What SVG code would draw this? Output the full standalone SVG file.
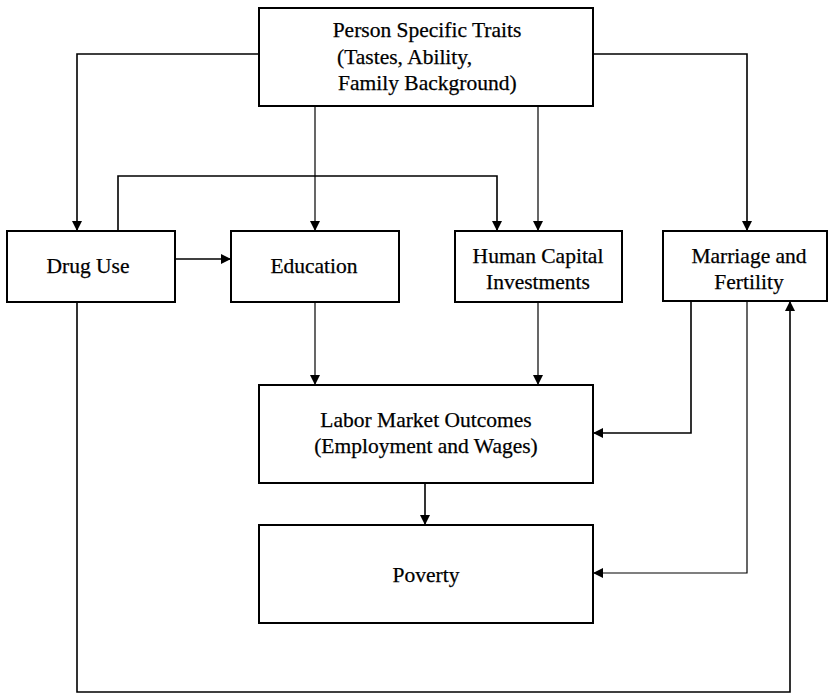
<svg xmlns="http://www.w3.org/2000/svg" width="828" height="694" viewBox="0 0 828 694">
<style>
.box{fill:#fff;stroke:#000;stroke-width:2}
.t{font-family:"Liberation Serif","Times New Roman",serif;font-size:21.5px;fill:#000;text-anchor:middle;stroke:#000;stroke-width:0.25}
.s{text-anchor:start}
.c{fill:none;stroke:#000;stroke-width:1.6}
.thin{fill:none;stroke:#000;stroke-width:1.2}
</style>
<defs>
<marker id="ah" viewBox="0 0 10 10" refX="10" refY="5" markerWidth="10" markerHeight="10" markerUnits="userSpaceOnUse" orient="auto">
<path d="M0,0 L10,5 L0,10 Z" fill="#000"/>
</marker>
</defs>
<rect width="828" height="694" fill="#fff"/>
<g id="connectors">
<path class="c" d="M259,54 H77 V231" marker-end="url(#ah)"/>
<path class="c" d="M593,54 H747 V231" marker-end="url(#ah)"/>
<path class="thin" d="M315,106 V231" marker-end="url(#ah)"/>
<path class="thin" d="M538,106 V231" marker-end="url(#ah)"/>
<path class="c" d="M118,231 V176 H497 V231" marker-end="url(#ah)"/>
<path class="c" d="M175,259 H231" marker-end="url(#ah)"/>
<path class="thin" d="M315,302 V385" marker-end="url(#ah)"/>
<path class="thin" d="M538,302 V385" marker-end="url(#ah)"/>
<path class="c" d="M425,483 V525" marker-end="url(#ah)"/>
<path class="c" d="M691,301 V433 H593" marker-end="url(#ah)"/>
<path class="thin" d="M747,301 V573 H593" marker-end="url(#ah)"/>
<path class="c" d="M77,302 V692 H790 V301" marker-end="url(#ah)"/>
</g>
<g id="traits">
<rect class="box" x="259" y="8" width="334" height="98"/>
<text class="t" x="427" y="37">Person Specific Traits</text>
<text class="t s" x="337" y="64">(Tastes, Ability,</text>
<text class="t s" x="338" y="90">Family Background)</text>
</g>
<g id="drug">
<rect class="box" x="7" y="231" width="168" height="71"/>
<text class="t" x="88" y="273">Drug Use</text>
</g>
<g id="education">
<rect class="box" x="231" y="231" width="168" height="71"/>
<text class="t" x="314" y="273">Education</text>
</g>
<g id="hci">
<rect class="box" x="455" y="231" width="167" height="71"/>
<text class="t" x="538" y="263">Human Capital</text>
<text class="t" x="538" y="289">Investments</text>
</g>
<g id="marriage">
<rect class="box" x="663" y="231" width="164" height="70"/>
<text class="t" x="749" y="263">Marriage and</text>
<text class="t" x="749" y="289">Fertility</text>
</g>
<g id="labor">
<rect class="box" x="259" y="385" width="334" height="98"/>
<text class="t" x="426" y="427">Labor Market Outcomes</text>
<text class="t" x="426" y="453">(Employment and Wages)</text>
</g>
<g id="poverty">
<rect class="box" x="259" y="525" width="334" height="98"/>
<text class="t" x="426" y="582">Poverty</text>
</g>
</svg>
